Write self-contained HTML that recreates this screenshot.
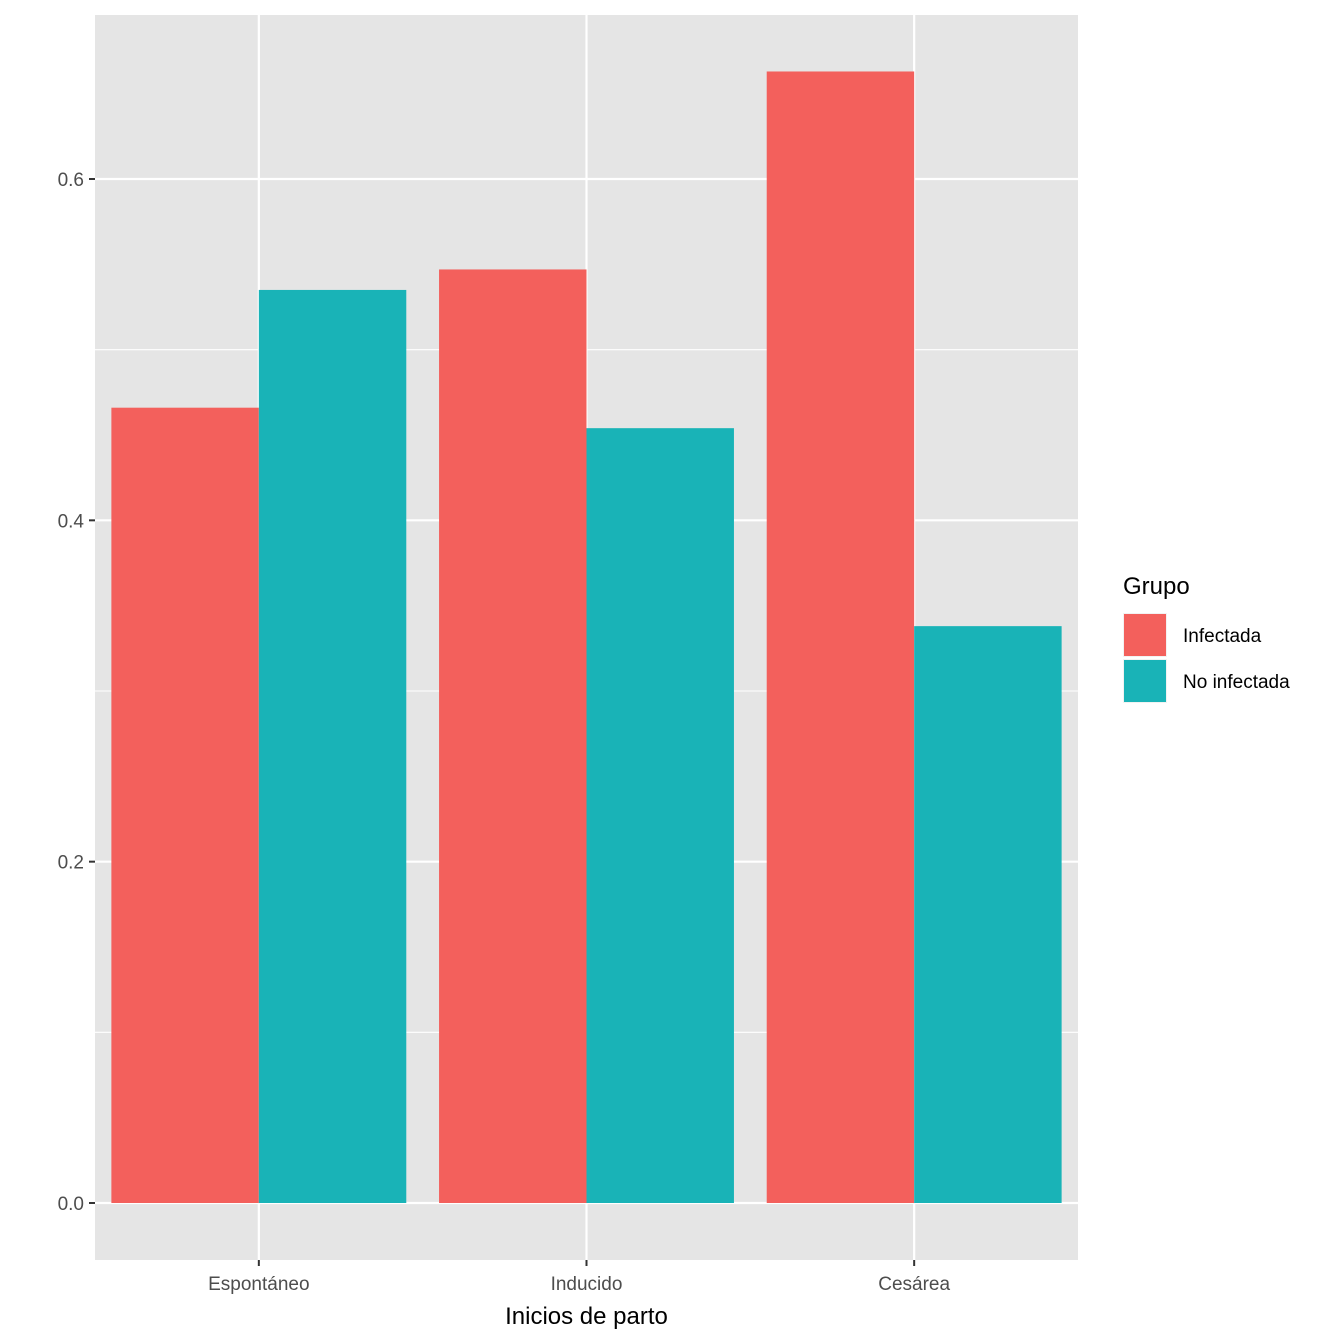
<!DOCTYPE html>
<html><head><meta charset="utf-8"><style>body{margin:0;background:#fff}svg{display:block;font-family:"Liberation Sans",Arial,sans-serif}</style></head>
<body>
<svg id="chart" width="1344" height="1344" viewBox="0 0 1344 1344"></svg>
<script>
const categories = ["Espontáneo", "Inducido", "Cesárea"];
const infectada = [0.466, 0.547, 0.663];
const noInfectada = [0.535, 0.454, 0.338];
const yTicks = [0, 0.2, 0.4, 0.6];
const yTickLabels = ["0.0", "0.2", "0.4", "0.6"];
const seriesNames = ["Infectada", "No infectada"];
const colors = ["#F3605C", "#19B3B7"];

const NS = "http://www.w3.org/2000/svg";
const svg = document.getElementById("chart");
const px0 = 95, px1 = 1078, py0 = 15, py1 = 1260;
const y = v => 1203 - v * 1706.67;
const step = (px1 - px0) / categories.length;
const x = i => px0 + step * (i + 0.5);
function mk(tag, attrs, parent) { const e = document.createElementNS(NS, tag); for (const k in attrs) e.setAttribute(k, attrs[k]); (parent || svg).appendChild(e); return e; }

const bg = mk("rect", {x: px0, y: py0, width: px1 - px0, height: py1 - py0, fill: "#E5E5E5"});


// minor grid
for (let i = 0; i < yTicks.length; i++) {
  const v = yTicks[i] + 0.1;
  const l = mk("line", {x1: px0, x2: px1, y1: y(v), y2: y(v), stroke: "#fff", "stroke-width": 1.1});
  
  
}
yTicks.forEach(v => {
  const l = mk("line", {x1: px0, x2: px1, y1: y(v), y2: y(v), stroke: "#fff", "stroke-width": 2.2});
  
  
});
categories.forEach((c, i) => {
  const l = mk("line", {x1: x(i), x2: x(i), y1: py0, y2: py1, stroke: "#fff", "stroke-width": 2.2});
  
  
});
const bw = step * 0.45;
categories.forEach((c, i) => {
  [infectada, noInfectada].forEach((arr, s) => {
    const bx = x(i) - bw + s * bw;
    const r = mk("rect", {x: bx, y: y(arr[i]), width: bw, height: y(0) - y(arr[i]), fill: colors[s]});
    
    
  });
});
yTicks.forEach((v, i) => {
  const t = mk("line", {x1: px0 - 6, x2: px0, y1: y(v), y2: y(v), stroke: "#333", "stroke-width": 2});
  
  
  const tx = mk("text", {x: px0 - 11, y: y(v) + 7, "text-anchor": "end", "font-size": 19, fill: "#4D4D4D"});
  tx.textContent = yTickLabels[i];
  
  
});
categories.forEach((c, i) => {
  const t = mk("line", {x1: x(i), x2: x(i), y1: py1, y2: py1 + 6, stroke: "#333", "stroke-width": 2});
  
  
  const tx = mk("text", {x: x(i), y: 1290, "text-anchor": "middle", "font-size": 19, fill: "#4D4D4D"});
  tx.textContent = c;
  
  
});
const xt = mk("text", {x: (px0 + px1) / 2, y: 1324, "text-anchor": "middle", "font-size": 24, fill: "#000"});
xt.textContent = "Inicios de parto";


const lt = mk("text", {x: 1123, y: 594, "font-size": 24, fill: "#000"});
lt.textContent = "Grupo";


seriesNames.forEach((n, s) => {
  const g = mk("g", {});
  
  
  mk("rect", {x: 1123, y: 613 + s * 46, width: 44, height: 44, fill: "#F2F2F2"}, g);
  mk("rect", {x: 1124, y: 614 + s * 46, width: 42, height: 42, fill: colors[s]}, g);
  const t = mk("text", {x: 1183, y: 642 + s * 46, "font-size": 19, fill: "#000"}, g);
  t.textContent = n;
});
</script>
</body></html>
